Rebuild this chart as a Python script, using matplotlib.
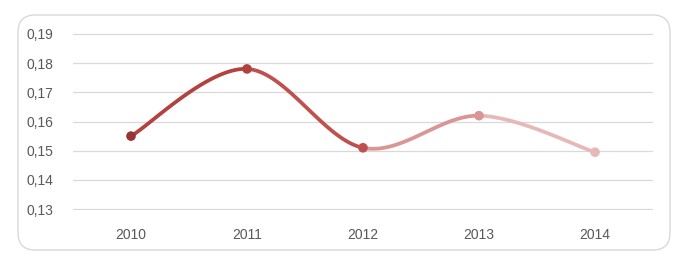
import matplotlib.pyplot as plt
import numpy as np
from matplotlib.patches import FancyBboxPatch

years = ["2010", "2011", "2012", "2013", "2014"]
values = [0.155, 0.178, 0.151, 0.162, 0.1495]
segment_colors = ["#b3423f", "#c0504d", "#d99694", "#e6b9b8"]
marker_colors = ["#963634", "#b0413e", "#c0504d", "#d99694", "#e6b9b8"]

plt.rcParams["font.family"] = ["Liberation Sans", "DejaVu Sans"]

fig = plt.figure(figsize=(6.88, 2.69), dpi=100)
ax = fig.add_axes([73 / 688, 1 - 210 / 269, 580 / 688, 177 / 269])

# rounded chart border
box = FancyBboxPatch((18 / 688, 1 - 250 / 269), 652 / 688, 235 / 269,
                     boxstyle="round,pad=0,rounding_size=0.025",
                     transform=fig.transFigure, facecolor="none",
                     edgecolor="#d9d9d9", linewidth=1.0, mutation_aspect=688 / 269)
fig.patches.append(box)

x = np.arange(len(values))
y = np.array(values)

# smooth curve like Excel (Catmull-Rom as cubic Bezier)
pts = np.column_stack([x, y])
t = np.linspace(0, 1, 60)[:, None]
for i in range(len(pts) - 1):
    p0 = pts[max(i - 1, 0)]
    p1 = pts[i]
    p2 = pts[i + 1]
    p3 = pts[min(i + 2, len(pts) - 1)]
    c1 = p1 + (p2 - p0) / 6
    c2 = p2 - (p3 - p1) / 6
    curve = ((1 - t) ** 3) * p1 + 3 * ((1 - t) ** 2) * t * c1 + 3 * (1 - t) * t ** 2 * c2 + t ** 3 * p2
    ax.plot(curve[:, 0], curve[:, 1], color=segment_colors[i], lw=2.7,
            solid_capstyle="round", zorder=3)

ax.scatter(x, y, s=48, color=marker_colors, zorder=4, linewidths=0)

ax.set_xlim(-0.5, 4.5)
ax.set_ylim(0.1297, 0.1903)
ticks = np.arange(0.13, 0.1901, 0.01)
ax.set_yticks(ticks)
ax.set_yticklabels([f"{v:.2f}".replace(".", ",") for v in ticks])
ax.set_xticks(x)
ax.set_xticklabels(years)
ax.grid(axis="y", color="#d9d9d9", lw=0.9)
ax.set_axisbelow(True)
for s in ax.spines.values():
    s.set_visible(False)
ax.tick_params(length=0, labelsize=10, colors="#595959")
ax.tick_params(axis="y", pad=14)
ax.tick_params(axis="x", pad=13)

fig.savefig("out.png", dpi=100)
